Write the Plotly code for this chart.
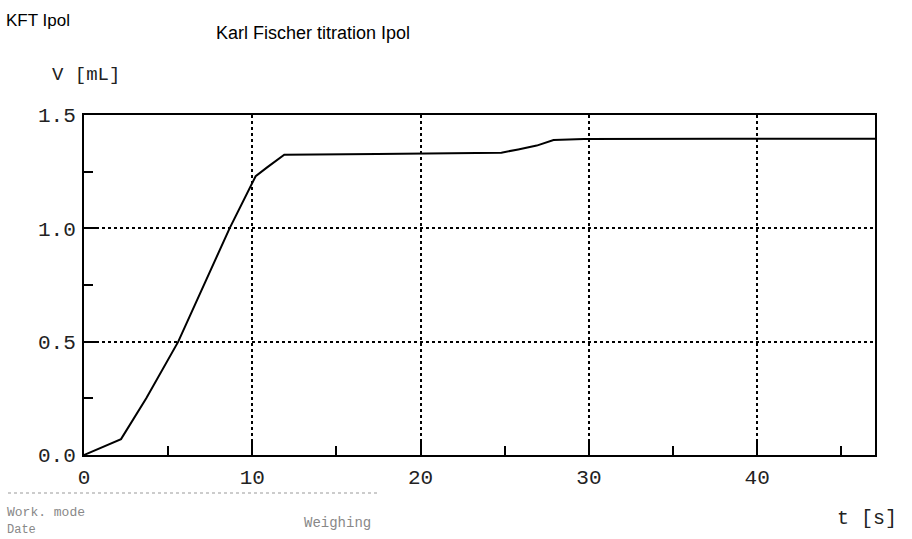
import plotly.graph_objects as go

# Data (t in s, V in mL)
t_values = [0.0, 2.2, 3.7, 5.6, 8.65, 10.2, 10.9, 11.9, 17.4, 22.1, 24.8, 25.8, 26.9, 27.9, 29.7, 38.0, 47.0]
v_values = [0.0, 0.07, 0.25, 0.50, 1.00, 1.23, 1.27, 1.325, 1.328, 1.331, 1.334, 1.348, 1.365, 1.39, 1.394, 1.395, 1.395]

x_ticks = [0, 10, 20, 30, 40]
x_tick_labels = ["0", "10", "20", "30", "40"]
y_ticks = [0.0, 0.5, 1.0, 1.5]
y_tick_labels = ["0.0", "0.5", "1.0", "1.5"]

title_left = "KFT Ipol"
title_main = "Karl Fischer titration Ipol"
y_label = "V [mL]"
x_label = "t [s]"

mono = "Liberation Mono"
L, T, W, H = 84, 115, 791, 340

fig = go.Figure()
fig.add_trace(go.Scatter(
    x=t_values, y=v_values, mode="lines",
    line=dict(color="black", width=2),
    showlegend=False, hoverinfo="skip",
))

fig.update_layout(
    width=912, height=539,
    margin=dict(l=L, r=912 - L - W, t=T, b=539 - T - H, autoexpand=False),
    paper_bgcolor="white", plot_bgcolor="white",
    showlegend=False,
)

fig.update_xaxes(
    range=[0, 47.0],
    tickmode="array", tickvals=x_ticks, ticktext=x_tick_labels,
    ticks="inside", ticklen=15, tickwidth=2, tickcolor="black",
    minor=dict(dtick=5, tick0=0, ticks="inside", ticklen=9, tickwidth=2, tickcolor="black", showgrid=False),
    showline=True, linecolor="black", linewidth=2, mirror=True,
    showgrid=True, gridcolor="black", gridwidth=1.5, griddash="dot",
    zeroline=False,
    tickfont=dict(family=mono, size=21, color="#222"),
    ticklabelstandoff=2,
)
fig.update_yaxes(
    range=[0, 1.5],
    tickmode="array", tickvals=y_ticks, ticktext=y_tick_labels,
    ticks="inside", ticklen=15, tickwidth=2, tickcolor="black",
    minor=dict(dtick=0.25, tick0=0, ticks="inside", ticklen=9, tickwidth=2, tickcolor="black", showgrid=False),
    showline=True, linecolor="black", linewidth=2, mirror=True,
    showgrid=True, gridcolor="black", gridwidth=1.5, griddash="dot",
    zeroline=False,
    tickfont=dict(family=mono, size=21, color="#222"),
    ticklabelstandoff=2,
)


def px_x(x):
    return (x - L) / W


def px_y(y):
    return 1 - (y - T) / H


fig.add_annotation(text=title_left, xref="paper", yref="paper",
                   x=px_x(4), y=px_y(20), xanchor="left", yanchor="middle",
                   showarrow=False, font=dict(family="Liberation Sans", size=17, color="black"))
fig.add_annotation(text=title_main, xref="paper", yref="paper",
                   x=px_x(214), y=px_y(33), xanchor="left", yanchor="middle",
                   showarrow=False, font=dict(family="Liberation Sans", size=18, color="black"))
fig.add_annotation(text=y_label, xref="paper", yref="paper",
                   x=px_x(50), y=px_y(75), xanchor="left", yanchor="middle",
                   showarrow=False, font=dict(family=mono, size=19, color="#222"))
fig.add_annotation(text=x_label, xref="paper", yref="paper",
                   x=px_x(835), y=px_y(518), xanchor="left", yanchor="middle",
                   showarrow=False, font=dict(family=mono, size=20, color="#222"))
fig.add_annotation(text="Work. mode", xref="paper", yref="paper",
                   x=px_x(6), y=px_y(512), xanchor="left", yanchor="middle", borderpad=0,
                   showarrow=False, font=dict(family=mono, size=13, color="#888"))
fig.add_annotation(text="Weighing", xref="paper", yref="paper",
                   x=px_x(303), y=px_y(523), xanchor="left", yanchor="middle", borderpad=0,
                   showarrow=False, font=dict(family=mono, size=14, color="#888"))
fig.add_annotation(text="Date", xref="paper", yref="paper",
                   x=px_x(6), y=px_y(530), xanchor="left", yanchor="middle", borderpad=0,
                   showarrow=False, font=dict(family=mono, size=12, color="#888"))
# faint separator line from the printout
fig.add_shape(type="line", xref="paper", yref="paper",
              x0=px_x(8), x1=px_x(378), y0=px_y(493), y1=px_y(493),
              line=dict(color="#999", width=1, dash="dot"))

fig.write_html("out.html",
               config={"displayModeBar": False},
               post_script="document.body.style.margin='0';document.body.style.overflow='hidden';")
